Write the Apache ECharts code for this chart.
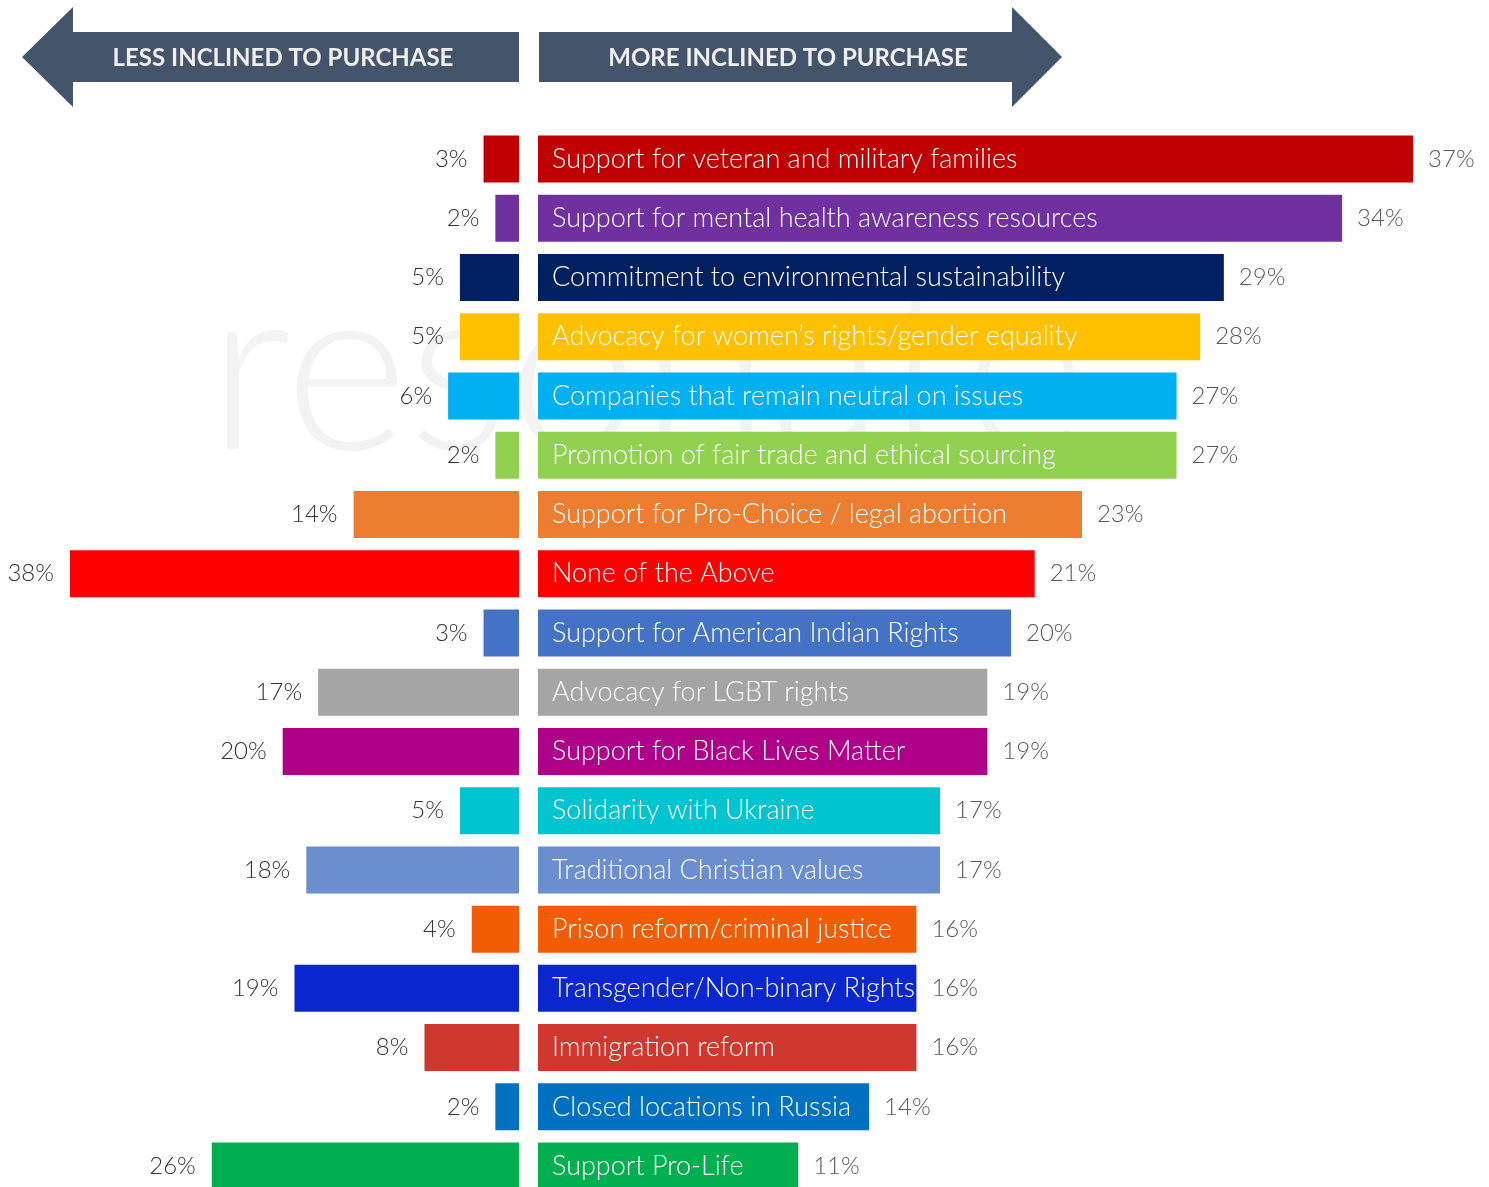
<!DOCTYPE html>
<html>
<head>
<meta charset="utf-8">
<script src="https://cdn.jsdelivr.net/npm/echarts@6/dist/echarts.min.js"></script>
<style>
html,body{margin:0;padding:0;background:#fff;overflow:hidden;}
#chart{width:1489px;height:1210px;}
</style>
</head>
<body>
<div id="chart"></div>
<script>
const categories = [
  "Support for veteran and military families",
  "Support for mental health awareness resources",
  "Commitment to environmental sustainability",
  "Advocacy for women\u2019s rights/gender equality",
  "Companies that remain neutral on issues",
  "Promotion of fair trade and ethical sourcing",
  "Support for Pro-Choice / legal abortion",
  "None of the Above",
  "Support for American Indian Rights",
  "Advocacy for LGBT rights",
  "Support for Black Lives Matter",
  "Solidarity with Ukraine",
  "Traditional Christian values",
  "Prison reform/criminal justice",
  "Transgender/Non-binary Rights",
  "Immigration reform",
  "Closed locations in Russia",
  "Support Pro-Life"
];
const lessInclined = [3, 2, 5, 5, 6, 2, 14, 38, 3, 17, 20, 5, 18, 4, 19, 8, 2, 26];
const moreInclined = [37, 34, 29, 28, 27, 27, 23, 21, 20, 19, 19, 17, 17, 16, 16, 16, 14, 11];
const barColors = [
  "#C00000", "#7030A0", "#002060", "#FFC000", "#00B0F0", "#92D050",
  "#ED7D31", "#FF0000", "#4472C4", "#A5A5A5", "#AE0088", "#00C4CF",
  "#6A8ECE", "#F25C05", "#0A27CF", "#CF372F", "#0070C0", "#00B050"
];
const headerLeft = "LESS INCLINED TO PURCHASE";
const headerRight = "MORE INCLINED TO PURCHASE";

const FONT = "Lato, 'Open Sans', sans-serif";
const chart = echarts.init(document.getElementById('chart'), null, {renderer: 'canvas'});

const gridTop = 129.4, gridHeight = 1066.3;
const arrowColor = "#44546A";

const option = {
  backgroundColor: '#ffffff',
  animation: false,
  graphic: [
    {
      type: 'text', z: -10, left: 208, top: 255,
      style: { text: 'resonate', font: "300 236px Lato, sans-serif", fill: '#f3f3f3' }
    },
    {
      type: 'polygon', z: 10,
      shape: { points: [[22,57],[73,7],[73,32],[519,32],[519,82],[73,82],[73,107]] },
      style: { fill: arrowColor }
    },
    {
      type: 'polygon', z: 10,
      shape: { points: [[539,32],[1012,32],[1012,7],[1062,57],[1012,107],[1012,82],[539,82]] },
      style: { fill: arrowColor }
    },
    {
      type: 'text', z: 11, x: 283, y: 58,
      style: { text: headerLeft, fill: '#f0f0f0', font: "bold 24px Lato, 'Open Sans', sans-serif", align: 'center', verticalAlign: 'middle' }
    },
    {
      type: 'text', z: 11, x: 788, y: 58,
      style: { text: headerRight, fill: '#f0f0f0', font: "bold 24px Lato, 'Open Sans', sans-serif", align: 'center', verticalAlign: 'middle' }
    }
  ],
  grid: [
    { left: 70, width: 449, top: gridTop, height: gridHeight, containLabel: false },
    { left: 538, width: 946, top: gridTop, height: gridHeight, containLabel: false }
  ],
  xAxis: [
    { gridIndex: 0, type: 'value', min: 0, max: 38, inverse: true, show: false },
    { gridIndex: 1, type: 'value', min: 0, max: 40, show: false }
  ],
  yAxis: [
    { gridIndex: 0, type: 'category', data: categories, inverse: true, show: false },
    { gridIndex: 1, type: 'category', data: categories, inverse: true, show: false }
  ],
  series: [
    {
      type: 'bar', xAxisIndex: 0, yAxisIndex: 0, barWidth: 47,
      data: lessInclined.map((v, i) => ({ value: v, itemStyle: { color: barColors[i] } })),
      label: {
        show: true, position: 'left', distance: 16,
        formatter: p => p.value + '%',
        color: '#333333', fontSize: 24, fontFamily: FONT, fontWeight: 300
      }
    },
    {
      type: 'bar', xAxisIndex: 1, yAxisIndex: 1, barWidth: 47,
      data: moreInclined.map((v, i) => ({ value: v, itemStyle: { color: barColors[i] } })),
      label: {
        show: true, position: 'right', distance: 15,
        formatter: p => p.value + '%',
        color: '#595959', fontSize: 24, fontFamily: FONT, fontWeight: 300
      }
    },
    {
      type: 'bar', xAxisIndex: 1, yAxisIndex: 1, barWidth: 47, barGap: '-100%', z: 5,
      data: moreInclined,
      itemStyle: { color: 'rgba(0,0,0,0)' },
      label: {
        show: true, position: 'insideLeft', distance: 14,
        formatter: p => categories[p.dataIndex],
        color: '#ffffff', fontSize: 27, fontFamily: FONT, fontWeight: 300
      }
    }
  ]
};
chart.setOption(option);
</script>
</body>
</html>
